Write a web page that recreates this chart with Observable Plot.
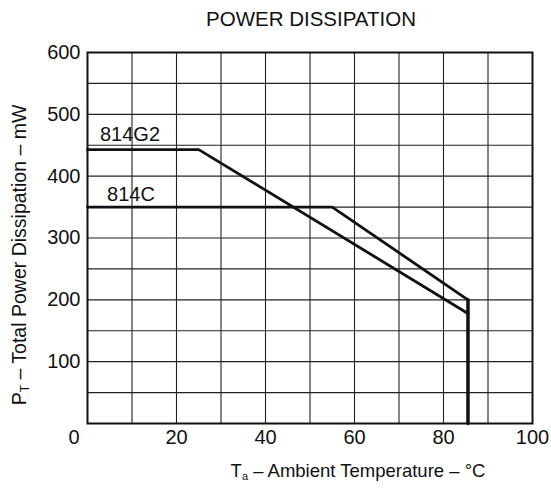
<!DOCTYPE html>
<html><head><meta charset="utf-8">
<script src="https://cdn.jsdelivr.net/npm/d3@7"></script>
<script src="https://cdn.jsdelivr.net/npm/@observablehq/plot@0.6"></script>
<style>
body{margin:0;background:#fff}
#chart{width:551px;height:491px}
svg{font-family:"Liberation Sans",Arial,Helvetica,sans-serif}
</style>
</head><body><div id="chart"></div>
<script>
const titleText = "POWER DISSIPATION";
const xTicks = [20, 40, 60, 80, 100];
const yTicks = [100, 200, 300, 400, 500, 600];
const xGrid = [10, 20, 30, 40, 50, 60, 70, 80, 90];
const yGrid = [50, 100, 150, 200, 250, 300, 350, 400, 450, 500, 550];
const seriesNames = ["814G2", "814C"];
const g2Temp = [0, 25, 85.5];
const g2Power = [443, 443, 178];
const cTemp = [0, 55, 85.5];
const cPower = [350, 350, 200];
const limitTemp = [85.5, 85.5];
const limitPower = [200, 0];
const labelTemp = [2.8, 4.4];
const labelPower = [457, 360];

const g2Rows = g2Temp.map((t, i) => ({t, p: g2Power[i]}));
const cRows = cTemp.map((t, i) => ({t, p: cPower[i]}));
const limitRows = limitTemp.map((t, i) => ({t, p: limitPower[i]}));
const labelRows = seriesNames.map((n, i) => ({n, t: labelTemp[i], p: labelPower[i]}));

const W = 551, H = 491;
const plot = Plot.plot({
  width: W, height: H,
  marginLeft: 87, marginRight: 19, marginTop: 52, marginBottom: 68,
  style: {fontFamily: '"Liberation Sans",Arial,Helvetica,sans-serif', fontSize: "20px", background: "#fff", color: "#111"},
  x: {domain: [0, 100], ticks: xTicks, tickSize: 0, tickPadding: 6, label: null},
  y: {domain: [0, 600], ticks: yTicks, tickSize: 0, tickPadding: 7, label: null},
  marks: [
    Plot.ruleX(xGrid, {stroke: "#222", strokeWidth: 1.1}),
    Plot.ruleY(yGrid, {stroke: "#222", strokeWidth: 1.1}),
    Plot.frame({stroke: "#111", strokeWidth: 2}),
    Plot.line(g2Rows, {x: "t", y: "p", stroke: "#111", strokeWidth: 2.8, strokeLinejoin: "miter"}),
    Plot.line(cRows, {x: "t", y: "p", stroke: "#111", strokeWidth: 2.8, strokeLinejoin: "miter"}),
    Plot.line(limitRows, {x: "t", y: "p", stroke: "#111", strokeWidth: 3.5}),
    Plot.text(labelRows, {x: "t", y: "p", text: "n", textAnchor: "start", lineAnchor: "bottom", fontSize: 20, fill: "#111"}),
    Plot.text([0], {x: d => d, y: d => d, text: d => String(d), textAnchor: "end", lineAnchor: "top", dx: -8, dy: 6, fontSize: 20, fill: "#111"}),
    Plot.axisX({ticks: xTicks, tickSize: 0, tickPadding: 6, fontSize: 20}),
    Plot.axisY({ticks: yTicks, tickSize: 0, tickPadding: 7, fontSize: 20})
  ]
});
document.getElementById("chart").appendChild(plot);

const svg = d3.select(plot);
svg.append("text").attr("x", 311).attr("y", 26).attr("text-anchor", "middle")
  .attr("font-size", 20.5).attr("fill", "#111").text(titleText);

const xl = svg.append("text").attr("x", 358).attr("y", 477).attr("text-anchor", "middle")
  .attr("font-size", 18.5).attr("fill", "#111");
xl.append("tspan").text("T");
xl.append("tspan").attr("font-size", 11).attr("dy", 3).text("a");
xl.append("tspan").attr("dy", -3).text(" – Ambient Temperature – °C");

const yl = svg.append("text").attr("transform", "translate(26,255) rotate(-90)").attr("text-anchor", "middle")
  .attr("font-size", 19.5).attr("fill", "#111");
yl.append("tspan").text("P");
yl.append("tspan").attr("font-size", 12).attr("dy", 3).text("T");
yl.append("tspan").attr("dy", -3).text(" – Total Power Dissipation – mW");
</script>
</body></html>
